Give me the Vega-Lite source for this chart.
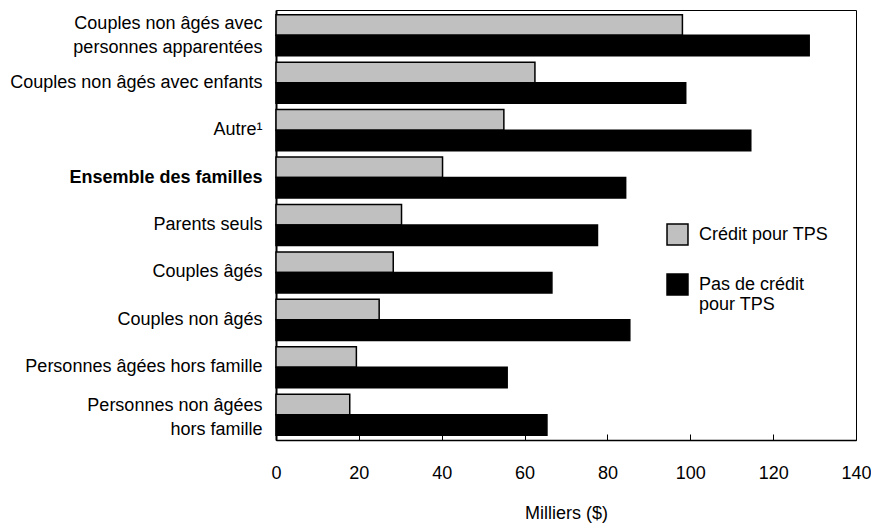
{
  "$schema": "https://vega.github.io/schema/vega-lite/v6.json",
  "width": 580,
  "height": 430,
  "autosize": {"type": "none"},
  "padding": {"left": 276, "top": 10, "right": 15, "bottom": 84},
  "background": "white",
  "config": {
    "font": "Liberation Sans",
    "view": {"stroke": "#000", "strokeWidth": 1}
  },
  "data": {
    "values": [
      {"cat": "Couples non âgés avec|personnes apparentées", "serie": "Crédit pour TPS", "v": 98.1},
      {"cat": "Couples non âgés avec|personnes apparentées", "serie": "Pas de crédit pour TPS", "v": 128.7},
      {"cat": "Couples non âgés avec enfants", "serie": "Crédit pour TPS", "v": 62.5},
      {"cat": "Couples non âgés avec enfants", "serie": "Pas de crédit pour TPS", "v": 98.9},
      {"cat": "Autre¹", "serie": "Crédit pour TPS", "v": 55.0},
      {"cat": "Autre¹", "serie": "Pas de crédit pour TPS", "v": 114.6},
      {"cat": "Ensemble des familles", "serie": "Crédit pour TPS", "v": 40.2},
      {"cat": "Ensemble des familles", "serie": "Pas de crédit pour TPS", "v": 84.4},
      {"cat": "Parents seuls", "serie": "Crédit pour TPS", "v": 30.3},
      {"cat": "Parents seuls", "serie": "Pas de crédit pour TPS", "v": 77.6},
      {"cat": "Couples âgés", "serie": "Crédit pour TPS", "v": 28.3},
      {"cat": "Couples âgés", "serie": "Pas de crédit pour TPS", "v": 66.6},
      {"cat": "Couples non âgés", "serie": "Crédit pour TPS", "v": 24.9},
      {"cat": "Couples non âgés", "serie": "Pas de crédit pour TPS", "v": 85.4},
      {"cat": "Personnes âgées hors famille", "serie": "Crédit pour TPS", "v": 19.4},
      {"cat": "Personnes âgées hors famille", "serie": "Pas de crédit pour TPS", "v": 55.8},
      {"cat": "Personnes non âgées |hors famille", "serie": "Crédit pour TPS", "v": 17.8},
      {"cat": "Personnes non âgées |hors famille", "serie": "Pas de crédit pour TPS", "v": 65.4}
    ]
  },
  "mark": {"type": "bar", "stroke": "#000", "strokeWidth": 1.5},
  "encoding": {
    "y": {
      "field": "cat",
      "type": "nominal",
      "sort": null,
      "title": null,
      "scale": {"paddingInner": 0.135, "paddingOuter": 0.1},
      "axis": {
        "labelExpr": "split(datum.label, '|')",
        "labelFontSize": 18,
        "labelColor": "#000",
        "labelPadding": 14,
        "labelLineHeight": 24,
        "labelLimit": 300,
        "labelOffset": {"condition": [
          {"test": "indexof(datum.value, 'apparent') >= 0", "value": -11},
          {"test": "indexof(datum.value, '|') >= 0", "value": -9}
        ], "value": 0},
        "labelFontWeight": {"condition": {"test": "datum.value == 'Ensemble des familles'", "value": "bold"}, "value": "normal"},
        "ticks": false,
        "domainColor": "#000",
        "domainWidth": 2
      }
    },
    "yOffset": {
      "field": "serie",
      "type": "nominal",
      "sort": ["Crédit pour TPS", "Pas de crédit pour TPS"],
      "scale": {"paddingInner": 0, "paddingOuter": 0}
    },
    "x": {
      "field": "v",
      "type": "quantitative",
      "title": "Milliers ($)",
      "scale": {"domain": [0, 140], "nice": false},
      "axis": {
        "values": [0, 20, 40, 60, 80, 100, 120, 140],
        "grid": false,
        "tickSize": -6,
        "tickColor": "#000",
        "domainColor": "#000",
        "domainWidth": 1.5,
        "labelFontSize": 18,
        "labelColor": "#000",
        "labelPadding": 30,
        "labelFlush": false,
        "titleFontSize": 18,
        "titleFontWeight": "normal",
        "titleColor": "#000",
        "titlePadding": 22
      }
    },
    "color": {
      "field": "serie",
      "type": "nominal",
      "sort": ["Crédit pour TPS", "Pas de crédit pour TPS"],
      "scale": {"domain": ["Crédit pour TPS", "Pas de crédit pour TPS"], "range": ["#c0c0c0", "#000000"]},
      "legend": {
        "title": null,
        "orient": "none",
        "legendX": 390,
        "legendY": 213,
        "padding": 0,
        "symbolType": "square",
        "symbolSize": 440,
        "symbolStrokeColor": "#000",
        "symbolStrokeWidth": 1.5,
        "labelFontSize": 18,
        "labelColor": "#000",
        "labelOffset": 10,
        "labelLineHeight": 22,
        "labelBaseline": "middle",
        "labelLimit": 300,
        "rowPadding": 23,
        "labelExpr": "datum.label == 'Pas de crédit pour TPS' ? ['Pas de crédit', 'pour TPS'] : datum.label"
      }
    }
  }
}
